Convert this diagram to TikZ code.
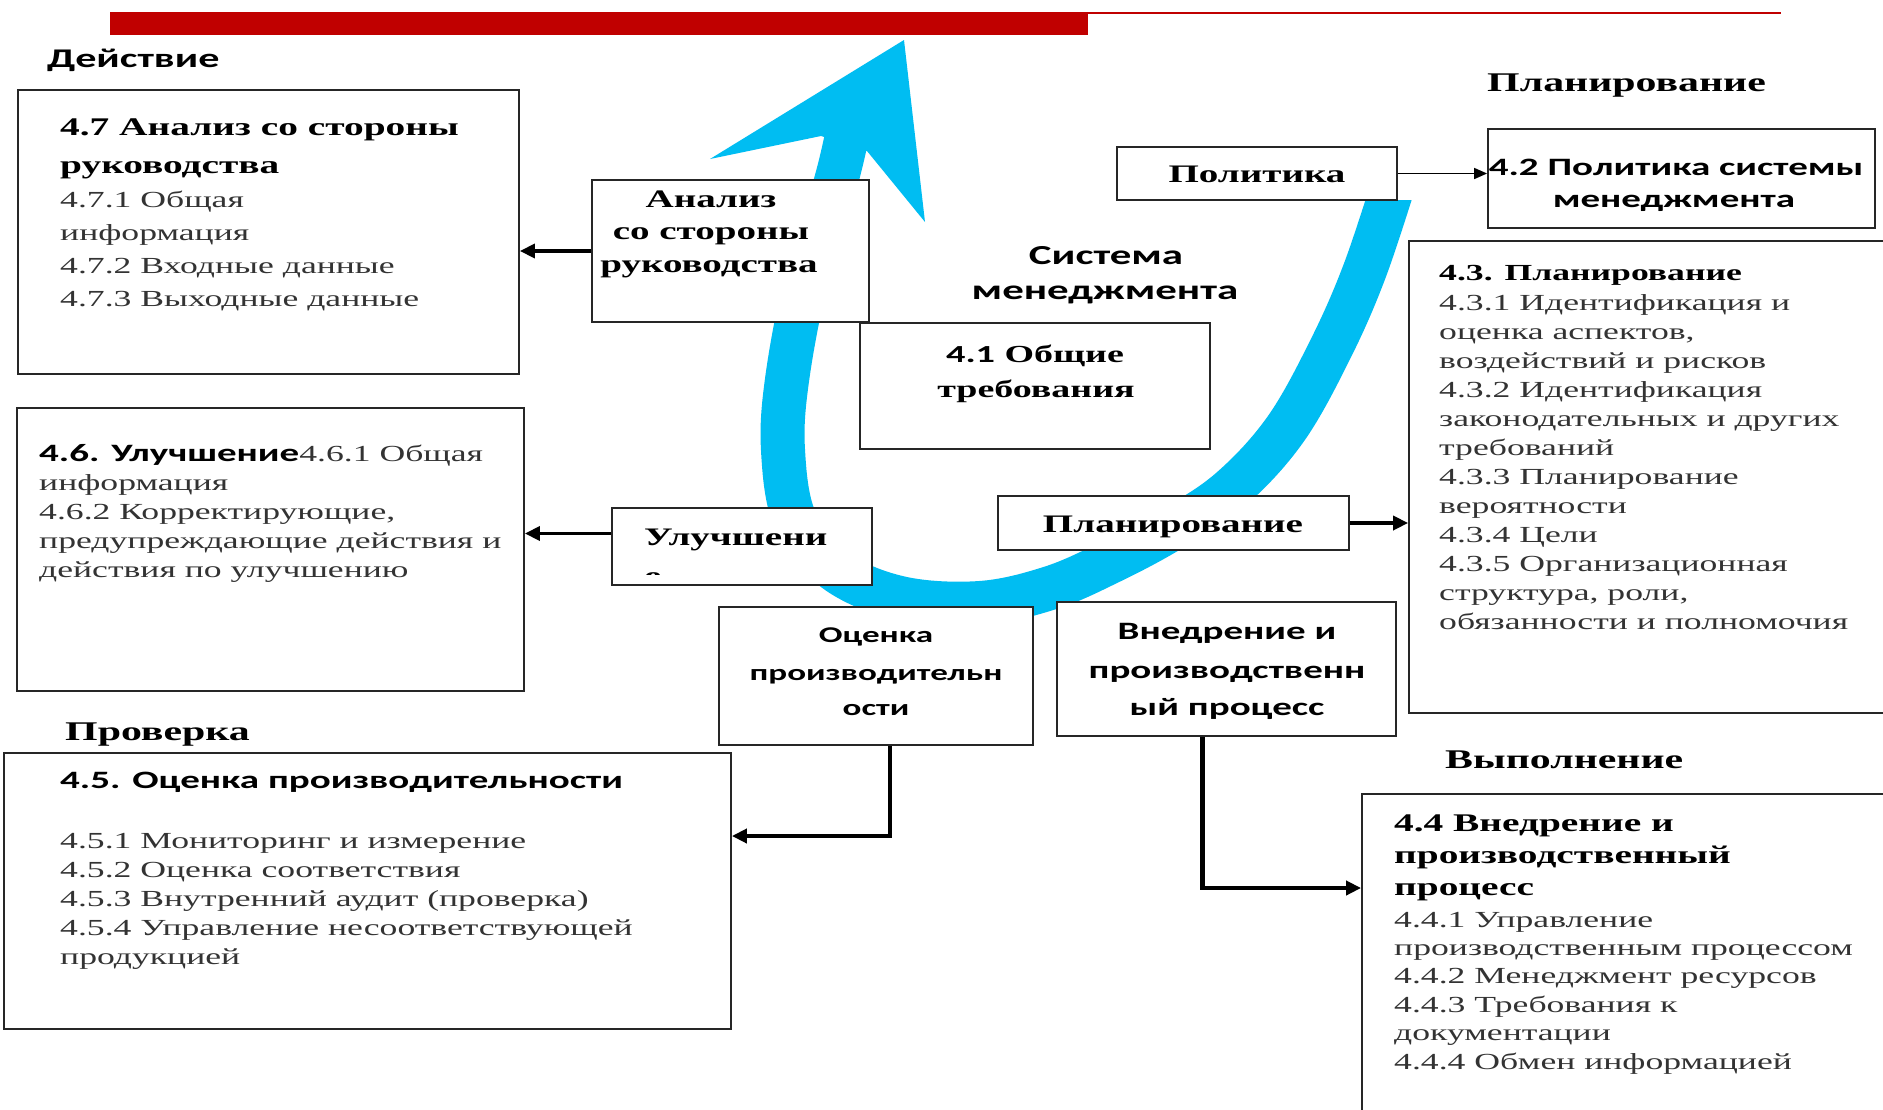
\documentclass[tikz,border=0pt]{standalone}
\usepackage{fontspec}
\setmainfont[FakeStretch=1.55]{Liberation Serif}
\newfontfamily\sansf[FakeStretch=1.56]{Carlito}
\usetikzlibrary{arrows.meta}
\definecolor{redbar}{RGB}{192,0,0}
\definecolor{cyanb}{RGB}{0,189,242}
\tikzset{
  box/.style={draw=black!85, line width=1.8pt, fill=white, inner sep=0pt},
  hdr/.style={font=\fontsize{27}{30}\selectfont\bfseries, anchor=base west, inner sep=0pt},
  shdr/.style={font=\sansf\fontsize{27}{30}\selectfont\bfseries, anchor=base west, inner sep=0pt},
  ttl/.style={font=\fontsize{25.4}{30}\selectfont\bfseries, anchor=base west, inner sep=0pt},
  sttl/.style={font=\sansf\fontsize{25}{30}\selectfont\bfseries, anchor=base west, inner sep=0pt},
  itm/.style={font=\fontsize{23}{28}\selectfont, text=black!80, anchor=base west, inner sep=0pt},
  lab/.style={font=\fontsize{25.2}{30}\selectfont\bfseries, anchor=base, inner sep=0pt},
  slab/.style={font=\sansf\fontsize{25}{30}\selectfont\bfseries, anchor=base, inner sep=0pt},
  conn/.style={line width=3.6pt, -{Triangle[length=15pt,width=14pt]}},
  thinconn/.style={line width=1.6pt, -{Triangle[length=13pt,width=11pt]}},
  band/.style={cyanb, line width=44pt}
}
\begin{document}
\begin{tikzpicture}[x=1pt,y=-1pt]
\useasboundingbox (0,0) rectangle (1883,1109);
\clip (0,0) rectangle (1883,1109);
\fill[white] (0,0) rectangle (1883,1109);

% red header bar
\fill[redbar] (110,12) rectangle (1088,35);
\draw[redbar, line width=2.5pt] (1088,13) -- (1781,13);

% blue cycle arrow
\begin{scope}
  \clip (0,200) rectangle (1883,1109) (0,0) rectangle (1100,200);
  \draw[band] plot[smooth, tension=0.6] coordinates {(846,140) (835,185) (806,280) (787,380) (783,450) (795,520) (835,570) (900,598) (980,603) (1050,588) (1110,562) (1170,530) (1230,490) (1285,430) (1330,350) (1365,270) (1398,170)};
\end{scope}
\fill[cyanb] (904,40) -- (925,222) -- (867,151) -- (821,136) -- (710,159) -- cycle;

% boxes
\node[box, minimum width=501pt, minimum height=284pt] (b47) at (268.5,232) {};
\node[box, minimum width=277pt, minimum height=142pt] (bAn) at (730.5,251) {};
\node[box, minimum width=280pt, minimum height=53pt] (bPol) at (1257,173.5) {};
\node[box, minimum width=387pt, minimum height=99pt] (b42) at (1681.5,178.5) {};
\node[box, minimum width=486pt, minimum height=472pt] (b43) at (1652,477) {};
\node[box, minimum width=350pt, minimum height=126pt] (b41) at (1035,386) {};
\node[box, minimum width=351pt, minimum height=54pt] (bPlan) at (1173.5,523) {};
\node[box, minimum width=260pt, minimum height=77pt] (bUl) at (742,546.5) {};
\node[box, minimum width=507pt, minimum height=283pt] (b46) at (270.5,549.5) {};
\node[box, minimum width=314pt, minimum height=138pt] (bOc) at (876,676) {};
\node[box, minimum width=339pt, minimum height=134pt] (bVn) at (1226.5,669) {};
\node[box, minimum width=727pt, minimum height=276pt] (b45) at (367.5,891) {};
\node[box, minimum width=533pt, minimum height=326pt] (b44) at (1628.5,957) {};

% headers
\node[shdr] (hDe) at (47,67) {Действие};
\node[hdr] (hPl) at (1487,91) {Планирование};
\node[hdr] (hPr) at (65,740) {Проверка};
\node[hdr] (hVy) at (1445,768) {Выполнение};

% 4.7
\node[ttl] (t47a) at (60,135) {4.7 Анализ со стороны};
\node[ttl] (t47b) at (60,173) {руководства};
\foreach \s [count=\i] in {4.7.1 Общая, информация, 4.7.2 Входные данные, 4.7.3 Выходные данные}
  \node[itm] (t47i\i) at (60,{207+33.3*(\i-1)}) {\s};

% Анализ small box
\node[lab] (tAn1) at (711,207) {Анализ};
\node[lab] (tAn2) at (711,239) {со стороны};
\node[lab] (tAn3) at (709,272) {руководства};

% Политика / 4.2
\node[lab] (tPol) at (1257,182) {Политика};
\node[slab] (t42a) at (1676,175) {4.2 Политика системы};
\node[slab] (t42b) at (1674,207) {менеджмента};

% Система менеджмента
\node[slab, font=\sansf\fontsize{27.5}{30}\selectfont\bfseries] (tSys1) at (1106,264) {Система};
\node[slab, font=\sansf\fontsize{27.5}{30}\selectfont\bfseries] (tSys2) at (1105,299) {менеджмента};

% 4.1
\node[lab, font=\fontsize{24.5}{30}\selectfont\bfseries] (t41a) at (1035,362) {{\sansf 4.1} Общие};
\node[lab, font=\fontsize{24.5}{30}\selectfont\bfseries] (t41b) at (1036,397) {требования};

% 4.3
\node[ttl, font=\fontsize{23}{28}\selectfont\bfseries] (t43a) at (1439,280) {4.3. Планирование};
\foreach \s [count=\i] in {4.3.1 Идентификация и, {оценка аспектов,}, воздействий и рисков, 4.3.2 Идентификация, законодательных и других, требований, 4.3.3 Планирование, вероятности, 4.3.4 Цели, 4.3.5 Организационная, {структура, роли,}, обязанности и полномочия}
  \node[itm] (t43i\i) at (1439,{310+29*(\i-1)}) {\s};

% Планирование (middle)
\node[lab] (tPlan) at (1173,532) {Планирование};

% Улучшени
\node[lab, anchor=base west] (tUl) at (644,545) {Улучшени};
\begin{scope}
  \clip (630,560) rectangle (690,574);
  \node[lab, anchor=base west] (tUl2) at (644,584) {е};
\end{scope}

% 4.6
\node[itm] (t46i1) at (39,461) {{\color{black}\sansf\bfseries\fontsize{25}{28}\selectfont 4.6. Улучшение}4.6.1 Общая};
\foreach \s [count=\i from 2] in {информация, {4.6.2 Корректирующие,}, предупреждающие действия и, действия по улучшению}
  \node[itm] (t46i\i) at (39,{461+29*(\i-1)}) {\s};

% 4.5
\node[sttl] (t45a) at (60,788) {4.5. Оценка производительности};
\foreach \s [count=\i] in {4.5.1 Мониторинг и измерение, 4.5.2 Оценка соответствия, 4.5.3 Внутренний аудит (проверка), 4.5.4 Управление несоответствующей, продукцией}
  \node[itm] (t45i\i) at (60,{848+29*(\i-1)}) {\s};

% Оценка производительности
\node[slab, font=\sansf\fontsize{22.5}{30}\selectfont\bfseries] (tOc1) at (876,642) {Оценка};
\node[slab, font=\sansf\fontsize{22.5}{30}\selectfont\bfseries] (tOc2) at (876,680) {производительн};
\node[slab, font=\sansf\fontsize{22.5}{30}\selectfont\bfseries] (tOc3) at (876,715) {ости};

% Внедрение
\node[slab] (tVn1) at (1227,639) {Внедрение и};
\node[slab] (tVn2) at (1227,678) {производственн};
\node[slab] (tVn3) at (1227,715) {ый процесс};

% 4.4
\node[ttl] (t44a) at (1394,831) {4.4 Внедрение и};
\node[ttl] (t44b) at (1394,863) {производственный};
\node[ttl] (t44c) at (1394,895) {процесс};
\foreach \s [count=\i] in {4.4.1 Управление, производственным процессом, 4.4.2 Менеджмент ресурсов, 4.4.3 Требования к, документации, 4.4.4 Обмен информацией}
  \node[itm] (t44i\i) at (1394,{927+28.4*(\i-1)}) {\s};

% connectors
\draw[conn] (bAn.west) -- (bAn.west -| b47.east);
\coordinate (ulA) at ([yshift=13pt]bUl.west);
\draw[conn] (ulA) -- (ulA -| b46.east);
\draw[thinconn] (bPol.east) -- (bPol.east -| b42.west);
\draw[conn] (bPlan.east) -- (bPlan.east -| b43.west);
\coordinate (ocA) at ([xshift=14pt]bOc.south);
\draw[conn, line width=4.5pt] (ocA) |- ([yshift=55pt]b45.east);
\coordinate (vnA) at ([xshift=-24pt]bVn.south);
\draw[conn, line width=4.5pt] (vnA) |- ([yshift=69pt]b44.west);
\end{tikzpicture}
\end{document}
